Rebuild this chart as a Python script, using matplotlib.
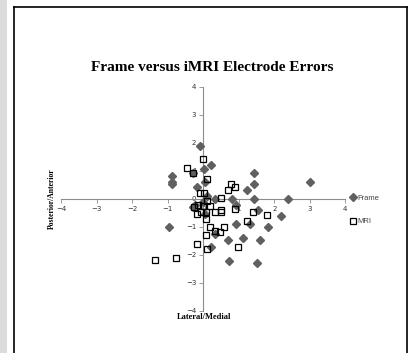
import matplotlib.pyplot as plt
from matplotlib.lines import Line2D

# electrode errors (lateral/medial, posterior/anterior)
frame_x = [-0.08, 0.22, 0.01, -0.28, -0.87, -0.87, -0.87, -0.18, 0.05, 1.22,
           1.42, 1.42, 0.32, 0.81, 1.42, 2.4, 3.0, -0.24, 0.92, 1.55,
           2.2, 1.82, 1.6, 1.52, 1.33, 0.92, 0.32, 1.12, 0.7, 0.22,
           0.73, -0.96, -0.3, 0.0, 0.05, 0.1]
frame_y = [1.9, 1.21, 1.08, 0.92, 0.82, 0.6, 0.52, 0.44, 0.6, 0.32,
           0.92, 0.52, 0.0, 0.0, 0.0, 0.0, 0.6, -0.21, -0.21, -0.4,
           -0.6, -1.0, -1.47, -2.3, -0.9, -0.9, -1.26, -1.4, -1.46, -1.7,
           -2.21, -1.0, -0.3, -0.1, -0.55, 0.1]

mri_x = [0.0, -0.47, -0.29, 0.1, -0.1, 0.02, 0.79, 0.89, 0.7, 0.51,
         0.1, 0.0, 0.18, -0.19, -0.05, 0.09, 0.32, 0.51, 0.51, 0.89,
         1.4, 1.8, 1.22, 0.09, 0.2, 0.58, 0.32, 0.48, 0.09, 0.98,
         0.1, -0.19, -1.37, -0.77, -0.25, -0.15]
mri_y = [1.43, 1.12, 0.94, 0.72, 0.21, 0.21, 0.54, 0.42, 0.32, 0.03,
         -0.08, -0.27, -0.27, -0.54, -0.45, -0.45, -0.45, -0.39, -0.48, -0.37,
         -0.47, -0.58, -0.79, -0.73, -0.99, -0.99, -1.14, -1.17, -1.29, -1.7,
         -1.79, -1.62, -2.18, -2.1, -0.3, -0.2]

ticks = [-4, -3, -2, -1, 0, 1, 2, 3, 4]

fig = plt.figure(figsize=(4.09, 3.53), dpi=100)
ax = fig.add_axes([0.150, 0.119, 0.694, 0.635])

ax.plot(frame_x, frame_y, 'D', color='#606060', ms=4.3, mec='#606060', label='Frame', zorder=3)
ax.plot(mri_x, mri_y, 's', mfc='none', mec='black', mew=0.9, ms=4.6, label='MRI', zorder=4)

ax.set_xlim(-4, 4)
ax.set_ylim(-4, 4)
ax.set_xticks(ticks)
ax.set_yticks(ticks)
ax.spines['left'].set_position('zero')
ax.spines['bottom'].set_position('zero')
ax.spines['right'].set_visible(False)
ax.spines['top'].set_visible(False)
for s in ['left', 'bottom']:
    ax.spines[s].set_color('#8c8c8c')
    ax.spines[s].set_linewidth(0.8)
ax.tick_params(axis='both', length=3, width=0.6, color='#8c8c8c', labelsize=5,
               labelcolor='#333333', pad=2, direction='out')

fig.text(0.518, 0.808, 'Frame versus iMRI Electrode Errors', ha='center', va='center',
         family='Liberation Serif', weight='bold', fontsize=11)
fig.text(0.127, 0.437, 'Posterior/Anterior', ha='center', va='center', rotation=90,
         family='Liberation Serif', weight='bold', fontsize=5.5)
fig.text(0.5, 0.102, 'Lateral/Medial', ha='center', va='center',
         family='Liberation Serif', weight='bold', fontsize=6)

leg = ax.legend(loc='center left', bbox_to_anchor=(0.995, 0.451), frameon=False,
                handlelength=0.6, handletextpad=0.3, labelspacing=2.1,
                prop={'family': 'Liberation Sans', 'size': 5.5})
for t in leg.get_texts():
    t.set_color('#444444')

# page border
fig.add_artist(Line2D([0.034, 0.034], [0, 0.98], color='black', lw=1.2))
fig.add_artist(Line2D([0.034, 0.995], [0.98, 0.98], color='black', lw=1.2))
fig.add_artist(Line2D([0.995, 0.995], [0, 0.98], color='black', lw=1.2))
fig.add_artist(Line2D([0.008, 0.008], [0, 1], color='#dcdcdc', lw=5))

fig.savefig('out.png', dpi=100)
